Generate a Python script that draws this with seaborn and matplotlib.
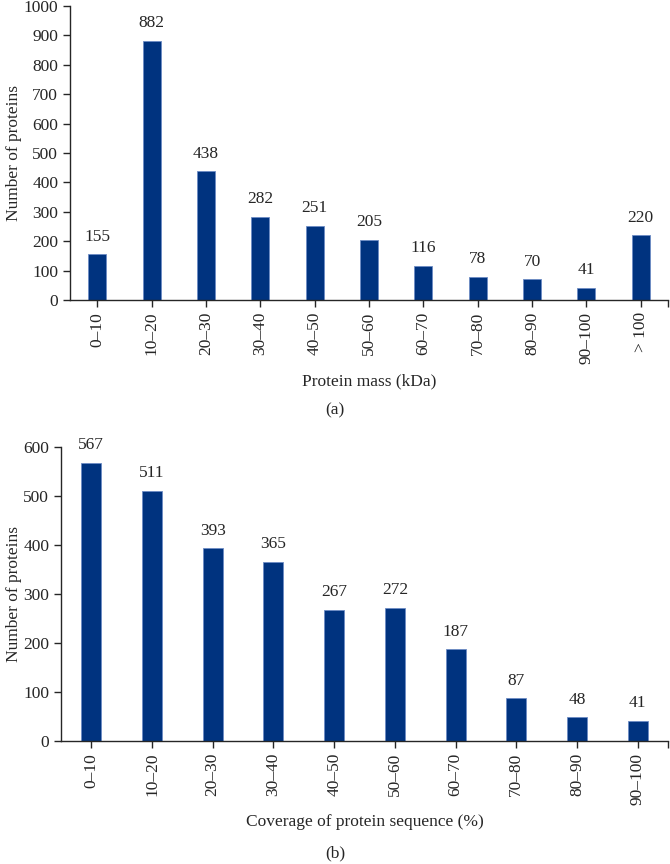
import numpy as np
import pandas as pd
import matplotlib
matplotlib.use("Agg")
import matplotlib.pyplot as plt
import seaborn as sns

# data
mass_bins = ["0\u201310", "10\u201320", "20\u201330", "30\u201340", "40\u201350", "50\u201360",
             "60\u201370", "70\u201380", "80\u201390", "90\u2013100", "> 100"]
mass_counts = [155, 882, 438, 282, 251, 205, 116, 78, 70, 41, 220]

cov_bins = ["0\u201310", "10\u201320", "20\u201330", "30\u201340", "40\u201350", "50\u201360",
            "60\u201370", "70\u201380", "80\u201390", "90\u2013100"]
cov_counts = [567, 511, 393, 365, 267, 272, 187, 87, 48, 41]

sns.set_style("ticks")
plt.rcParams['font.family'] = ['Liberation Serif', 'DejaVu Serif']
FS = 12.5
plt.rcParams['font.size'] = FS

BAR = "#00337f"
EDGE = "#6d8cc4"

fig = plt.figure(figsize=(6.7, 8.64), dpi=100)
ax1 = fig.add_axes([0.1045, 0.6528, 0.8925, 0.3402])
ax2 = fig.add_axes([0.091, 0.1424, 0.906, 0.3402])


def draw(ax, cats, vals, ymax, step, xlabel):
    df = pd.DataFrame({"bin": cats, "n": vals})
    sns.barplot(data=df, x="bin", y="n", order=cats, color=BAR, width=0.33,
                edgecolor=EDGE, linewidth=0.6, saturation=1, ax=ax)
    for c in ax.containers:
        ax.bar_label(c, fmt="%d", padding=7, fontsize=FS)
    n = len(cats)
    ax.set_xlim(-0.5, n - 0.5)
    ax.set_ylim(0, ymax)
    ax.set_yticks(np.arange(0, ymax + 1, step))
    # closing tick at the right end of the category axis
    ax.set_xticks([n - 0.5], minor=True)
    ax.tick_params(axis="x", which="both", rotation=90, length=5, width=1, direction="out", labelsize=FS)
    ax.tick_params(axis="y", length=5, width=1, direction="out", labelsize=FS)
    for s in ["top", "right"]:
        ax.spines[s].set_visible(False)
    for s in ["left", "bottom"]:
        ax.spines[s].set_linewidth(1)
    ax.set_ylabel("Number of proteins", fontsize=FS, labelpad=1)
    ax.set_xlabel(xlabel, fontsize=FS, labelpad=7)


draw(ax1, mass_bins, mass_counts, 1000, 100, "Protein mass (kDa)")
draw(ax2, cov_bins, cov_counts, 600, 100, "Coverage of protein sequence (%)")

fig.text(0.5, 1 - 410 / 864, "(a)", ha="center", va="center", fontsize=FS)
fig.text(0.5, 1 - 853 / 864, "(b)", ha="center", va="center", fontsize=FS)

fig.savefig("out.png", dpi=100)
